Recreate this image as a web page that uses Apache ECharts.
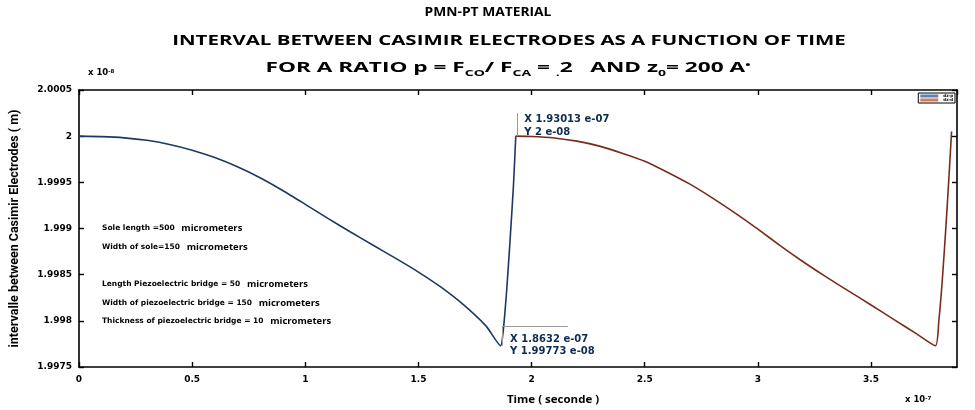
<!DOCTYPE html>
<html>
<head>
<meta charset="utf-8">
<script src="https://cdn.jsdelivr.net/npm/echarts@6/dist/echarts.min.js"></script>
<style>html,body{margin:0;padding:0;background:#fff;}#c{width:975px;height:410px;}</style>
</head>
<body>
<div id="c"></div>
<script>
// time in units of 1e-7 s, gap in units of 1e-8 m
const t1 = [0, 0.1, 0.2, 0.3, 0.4, 0.5, 0.6, 0.7, 0.8, 0.9, 1.0, 1.1, 1.2, 1.3, 1.4, 1.5, 1.6, 1.7, 1.8, 1.8632, 1.875, 1.89, 1.905, 1.92, 1.93013];
const z1 = [2.0, 1.999995, 1.999982, 1.999955, 1.999910, 1.999848, 1.999768, 1.999668, 1.999550, 1.999412, 1.999262, 1.999110, 1.998962, 1.998818, 1.998676, 1.998528, 1.998364, 1.998172, 1.997940, 1.99773, 1.997899, 1.998332, 1.998874, 1.999469, 2.0];
const t2 = [1.93013, 2.0, 2.1, 2.2, 2.3, 2.4, 2.5, 2.6, 2.7, 2.8, 2.9, 3.0, 3.1, 3.2, 3.3, 3.4, 3.5, 3.6, 3.7, 3.785, 3.80, 3.815, 3.83, 3.845, 3.856];
const z2 = [2.0, 1.999997, 1.999981, 1.999946, 1.999892, 1.999816, 1.999729, 1.999610, 1.999480, 1.999329, 1.999166, 1.998993, 1.998812, 1.998640, 1.998478, 1.998324, 1.998172, 1.998016, 1.997862, 1.99773, 1.998007, 1.998440, 1.998982, 1.999578, 2.00005];
const xTickLabels = ['0', '0.5', '1', '1.5', '2', '2.5', '3', '3.5'];
const yTickLabels = ['1.9975', '1.998', '1.9985', '1.999', '1.9995', '2', '2.0005'];
const seriesNames = ['dz-p', 'dz-d'];
const tipA = [1.8632, 1.99773];
const tipB = [1.93013, 2];
const notes = ['Sole length =500', 'Width of sole=150', 'Length Piezoelectric bridge = 50', 'Width of piezoelectric bridge = 150', 'Thickness of piezoelectric bridge = 10'];
</script>
<script>
const chart = echarts.init(document.getElementById('c'), null, {renderer: 'canvas'});
const F = 'DejaVu Sans';
const OS = 'Open Sans';
const pair = (xs, ys) => xs.map((x, i) => [x, ys[i]]);
const axCommon = {
  min: 0, max: 3.88, interval: 0.5,
  axisLine: {show: true, onZero: false, lineStyle: {color: '#000', width: 1.6}},
  axisTick: {show: true, inside: true, length: 5, lineStyle: {color: '#000', width: 1.4}},
  splitLine: {show: false}
};
const ayCommon = {
  min: 1.9975, max: 2.0005, interval: 0.0005,
  axisLine: {show: true, onZero: false, lineStyle: {color: '#000', width: 1.6}},
  axisTick: {show: true, inside: true, length: 5, lineStyle: {color: '#000', width: 1.4}},
  splitLine: {show: false}
};
const tipLabel = (p) => 'X ' + p[0] + ' e-07\nY ' + p[1] + ' e-08';
const noteY = [228, 247, 284, 303, 321];
const noteGraphics = notes.map((n, i) => ({
  type: 'text', x: 102, y: noteY[i],
  style: {
    text: '{a|' + n + '}  {b|micrometers}', verticalAlign: 'middle',
    rich: {
      a: {fontFamily: F, fontWeight: 'bold', fontSize: 7.5, fill: '#000'},
      b: {fontFamily: OS, fontWeight: 'bold', fontSize: 9.5, fill: '#000'}
    }
  }
}));
const title = (txt, x, y, size, sx) => ({
  type: 'text', x: x, y: y, scaleX: sx,
  style: {text: txt, align: 'center', verticalAlign: 'middle', fontFamily: OS, fontWeight: 'bold', fontSize: size, fill: '#000'}
});
const gray = {color: '#9a9a9a', width: 1, type: 'solid'};
chart.setOption({
  animation: false,
  backgroundColor: '#fff',
  grid: {left: 79, right: 18, top: 90, bottom: 43, containLabel: false},
  legend: {
    right: 20, top: 93, orient: 'vertical', itemGap: 0, itemWidth: 18, itemHeight: 3,
    padding: [1, 2], borderColor: '#000', borderWidth: 1, backgroundColor: '#fff',
    textStyle: {fontSize: 4, fontWeight: 'bold', color: '#000', fontFamily: F},
    data: [
      {name: seriesNames[0], icon: 'rect', itemStyle: {color: '#5b86b8'}},
      {name: seriesNames[1], icon: 'rect', itemStyle: {color: '#d97a52'}}
    ]
  },
  xAxis: [
    Object.assign({}, axCommon, {
      type: 'value', position: 'bottom',
      axisLabel: {show: true, margin: 8, fontFamily: F, fontWeight: 'bold', fontSize: 9, color: '#000',
        showMaxLabel: false, formatter: (v) => xTickLabels[Math.round(v / 0.5)] || ''}
    }),
    Object.assign({}, axCommon, {type: 'value', position: 'top', axisLabel: {show: false}})
  ],
  yAxis: [
    Object.assign({}, ayCommon, {
      type: 'value', position: 'left',
      name: 'intervalle between Casimir Electrodes ( m)', nameLocation: 'middle', nameGap: 58,
      nameTextStyle: {fontFamily: 'Roboto', fontWeight: 'bold', fontSize: 12.5, color: '#000'},
      axisLabel: {show: true, margin: 7, fontFamily: F, fontWeight: 'bold', fontSize: 9, color: '#000',
        formatter: (v) => yTickLabels[Math.round((v - 1.9975) / 0.0005)] || ''}
    }),
    Object.assign({}, ayCommon, {type: 'value', position: 'right', axisLabel: {show: false}})
  ],
  series: [
    {
      name: seriesNames[0], type: 'line', data: pair(t1, z1), smooth: 0.2, symbol: 'none',
      lineStyle: {color: '#1d3862', width: 1.6}, itemStyle: {color: '#1d3862'},
      markPoint: {
        symbol: 'rect', symbolSize: [1, 1], itemStyle: {color: '#1d3862'},
        data: [{coord: tipA, value: 0}],
        label: {show: true, position: 'right', offset: [4, 0], formatter: () => tipLabel(tipA),
          fontFamily: F, fontWeight: 'bold', fontSize: 10, color: '#0e2c4f', lineHeight: 12}
      },
      markLine: {
        symbol: 'none', silent: true, label: {show: false}, lineStyle: gray,
        data: [
          [{coord: [tipA[0] + 0.008, tipA[1]]}, {coord: [tipA[0] + 0.008, 1.997942]}],
          [{coord: [tipA[0] + 0.008, 1.997942]}, {coord: [2.16, 1.997942]}]
        ]
      }
    },
    {
      name: seriesNames[1], type: 'line', data: pair(t2, z2), smooth: 0.2, symbol: 'none',
      lineStyle: {color: '#7a2c1a', width: 1.6}, itemStyle: {color: '#7a2c1a'},
      markPoint: {
        symbol: 'rect', symbolSize: [1, 1], itemStyle: {color: '#7a2c1a'},
        data: [{coord: tipB, value: 0}],
        label: {show: true, position: 'right', offset: [3, -10], formatter: () => tipLabel(tipB),
          fontFamily: F, fontWeight: 'bold', fontSize: 10, color: '#0e2c4f', lineHeight: 13}
      },
      markLine: {
        symbol: 'none', silent: true, label: {show: false}, lineStyle: gray,
        data: [[{coord: [tipB[0] + 0.005, tipB[1]]}, {coord: [tipB[0] + 0.005, 2.00025]}]]
      }
    }
  ],
  graphic: [
    title('PMN-PT MATERIAL', 488, 13, 12, 1.15),
    title('INTERVAL BETWEEN CASIMIR ELECTRODES AS A FUNCTION OF TIME', 509, 41, 14, 1.46),
    {type: 'text', x: 508, y: 68, scaleX: 1.56, style: {
      text: '{m|FOR A RATIO p = F}{s|CO}{m|/ F}{s|CA}{m| = }{s|.}{m|2   AND z}{s|0}{m|= 200 A}{u|•}',
      align: 'center', verticalAlign: 'middle',
      rich: {
        m: {fontFamily: OS, fontWeight: 'bold', fontSize: 14.5, fill: '#000', verticalAlign: 'bottom'},
        s: {fontFamily: OS, fontWeight: 'bold', fontSize: 9, fill: '#000', verticalAlign: 'bottom', padding: [0, 0, -2, 0]},
        u: {fontFamily: OS, fontWeight: 'bold', fontSize: 9, fill: '#000', verticalAlign: 'top'}
      }}},
    {type: 'text', x: 88, y: 73, style: {text: '{m|x 10}{s|-8}', verticalAlign: 'middle', rich: {m: {fontFamily: F, fontWeight: 'bold', fontSize: 8.5, fill: '#000'}, s: {fontFamily: F, fontWeight: 'bold', fontSize: 5.5, fill: '#000', verticalAlign: 'top'}}}},
    {type: 'text', x: 905, y: 400, style: {text: '{m|x 10}{s|-7}', verticalAlign: 'middle', rich: {m: {fontFamily: F, fontWeight: 'bold', fontSize: 8.5, fill: '#000'}, s: {fontFamily: F, fontWeight: 'bold', fontSize: 5.5, fill: '#000', verticalAlign: 'top'}}}},
    {type: 'text', x: 553, y: 400, scaleX: 1.15, style: {text: 'Time ( seconde )', align: 'center', verticalAlign: 'middle', fontFamily: OS, fontWeight: 'bold', fontSize: 10, fill: '#000'}}
  ].concat(noteGraphics)
});
</script>
</body>
</html>
